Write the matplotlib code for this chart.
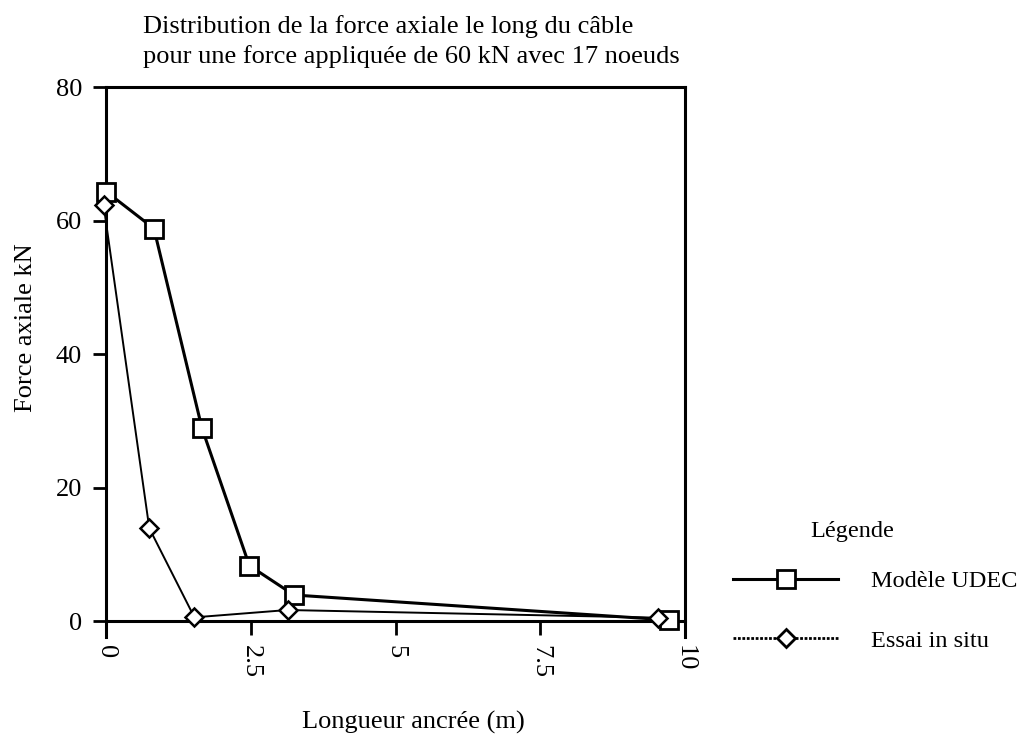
import matplotlib
matplotlib.use("Agg")
import matplotlib.pyplot as plt
from matplotlib.lines import Line2D

plt.rcParams['font.family'] = ['Liberation Serif', 'DejaVu Serif']

# Force axiale le long du câble
x_udec = [0.0, 0.82, 1.65, 2.47, 3.24, 9.73]
f_udec = [64.3, 58.8, 28.9, 8.3, 3.9, 0.15]

x_situ = [-0.05, 0.74, 1.52, 3.13, 9.53]
f_situ = [62.3, 13.9, 0.55, 1.65, 0.5]

x_ticks = [0, 2.5, 5, 7.5, 10]
x_tick_labels = ["0", "2.5", "5", "7.5", "10"]
y_ticks = [0, 20, 40, 60, 80]

series_labels = ["Modèle UDEC", "Essai in situ"]

title = ("Distribution de la force axiale le long du câble\n"
         "pour une force appliquée de 60 kN avec 17 noeuds")

FS = 19
FS_LEG = 17.5

fig = plt.figure(figsize=(10.19, 7.38), dpi=100)
ax = fig.add_axes([0.1045, 0.1585, 0.5677, 0.7236])

ax.plot(x_udec, f_udec, color='black', lw=2.2, marker='s', ms=13,
        mfc='white', mec='black', mew=2.0, zorder=3, clip_on=False)
ax.plot(x_situ, f_situ, color='black', lw=1.4, marker='D', ms=9.5,
        mfc='white', mec='black', mew=1.8, zorder=4, clip_on=False)

ax.set_xlim(0, 10)
ax.set_ylim(0, 80)
ax.set_xticks(x_ticks)
ax.set_xticklabels(x_tick_labels, rotation=-90, fontsize=FS)
ax.set_yticks(y_ticks)
ax.set_yticklabels([str(v) for v in y_ticks], fontsize=FS)

for side in ['left', 'right', 'top', 'bottom']:
    ax.spines[side].set_linewidth(2.2)
ax.spines['left'].set_bounds(-2.4, 80)
ax.spines['right'].set_bounds(-2.4, 80)

ax.tick_params(axis='x', direction='out', length=10, width=2.0, pad=7)
ax.tick_params(axis='y', direction='out', length=9.5, width=2.0, pad=8)

ax.set_ylabel("Force axiale kN", fontsize=FS)
ax.yaxis.set_label_coords(-0.12, 0.549)
ax.set_xlabel("Longueur ancrée (m)", fontsize=FS, va='center')
ax.xaxis.set_label_coords(0.53, -0.189)

fig.text(143 / 1019, 1 - 63 / 738, title, ha='left', va='baseline',
         fontsize=FS, linespacing=1.39)

handles = [
    Line2D([], [], color='black', lw=2.2, marker='s', ms=13, mfc='white',
           mec='black', mew=2.0),
    Line2D([], [], color='black', lw=2.0, ls=(0, (1, 0.6)), marker='D',
           ms=9.5, mfc='white', mec='black', mew=2.0),
]
fig.text(852 / 1019, 1 - 532 / 738, "Légende", ha='center', va='center',
         fontsize=FS_LEG)
leg = fig.legend(handles, series_labels, loc='center left',
                 bbox_to_anchor=(733 / 1019, 1 - 611 / 738),
                 frameon=False, fontsize=FS_LEG,
                 handlelength=4.32, handletextpad=1.36, labelspacing=1.55,
                 borderpad=0.0, borderaxespad=0.0)

fig.savefig("out.png", dpi=100)
